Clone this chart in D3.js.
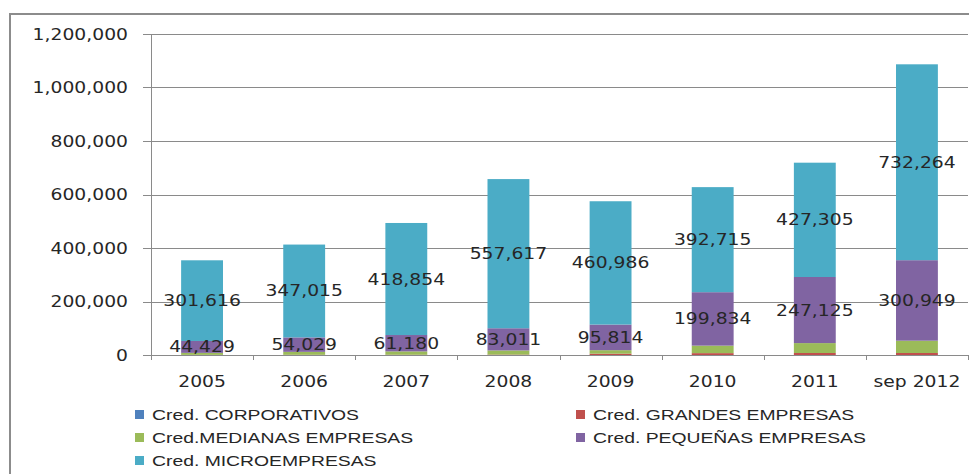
<!DOCTYPE html>
<html>
<head>
<meta charset="utf-8">
<script src="https://cdn.jsdelivr.net/npm/d3@7"></script>
<style>
  html, body { margin: 0; padding: 0; background: #fff; }
  svg { display: block; }
</style>
</head>
<body>
<svg id="chart" width="969" height="474"></svg>
<script>
// ---- Data ----
const categories = ["2005", "2006", "2007", "2008", "2009", "2010", "2011", "sep 2012"];
const seriesNames = ["Cred. CORPORATIVOS", "Cred. GRANDES EMPRESAS", "Cred.MEDIANAS EMPRESAS", "Cred. PEQUEÑAS EMPRESAS", "Cred. MICROEMPRESAS"];
const corporativos = [0, 0, 0, 0, 0, 0, 0, 0];
const grandes      = [500, 800, 1000, 1500, 5000, 7000, 7500, 7500];
const medianas     = [7500, 11000, 12500, 15500, 13000, 28000, 37000, 46000];
const pequenas     = [44429, 54029, 61180, 83011, 95814, 199834, 247125, 300949];
const micro        = [301616, 347015, 418854, 557617, 460986, 392715, 427305, 732264];
const yTicks = [0, 200000, 400000, 600000, 800000, 1000000, 1200000];
const colors = ["#4F81BD", "#C0504D", "#9BBB59", "#8064A2", "#4BACC6"];
const labelledSeries = [3, 4];

// ---- Layout ----
const svg = d3.select("#chart");
const plot = { left: 151, right: 968, top: 34, bottom: 355 };
const sx = 1.25;           // horizontal stretch of text in the reference
const legendSx = 1.29;
const numFont = "'DejaVu Sans', Verdana, sans-serif";
const legFont = "'Liberation Sans', Arial, sans-serif";
const textColor = "#262626";
const gridColor = "#8a8a8a";

// Outer frame (partially cropped in the reference)
svg.append("line").attr("x1", 10).attr("x2", 969).attr("y1", 14).attr("y2", 14)
  .attr("stroke", "#8c8c8c").attr("stroke-width", 2);
svg.append("line").attr("x1", 10).attr("x2", 10).attr("y1", 13).attr("y2", 474)
  .attr("stroke", "#8c8c8c").attr("stroke-width", 2);

const x = d3.scaleBand().domain(categories).range([plot.left, plot.right]).paddingInner(0.59).paddingOuter(0.295);
const xBand = d3.scaleBand().domain(categories).range([plot.left, plot.right]);
const y = d3.scaleLinear().domain([0, 1200000]).range([plot.bottom, plot.top]);

// Gridlines + y ticks
const g = svg.append("g");
g.selectAll("line.grid").data(yTicks).enter().append("line")
  .attr("x1", plot.left - 8).attr("x2", plot.right)
  .attr("y1", d => Math.round(y(d)) + 0.5).attr("y2", d => Math.round(y(d)) + 0.5)
  .attr("stroke", gridColor).attr("stroke-width", 1);

const fmt = d3.format(",");
g.selectAll("text.ylab").data(yTicks).enter().append("text")
  .attr("transform", d => `translate(128,${y(d) + 5.5}) scale(${sx},1)`)
  .attr("text-anchor", "end")
  .attr("font-family", numFont).attr("font-size", 15).attr("fill", textColor)
  .text(d => fmt(d));

// Stacked bars
const rows = categories.map((c, i) => ({
  cat: c, s0: corporativos[i], s1: grandes[i], s2: medianas[i], s3: pequenas[i], s4: micro[i]
}));
const keys = ["s0", "s1", "s2", "s3", "s4"];
const stacked = d3.stack().keys(keys)(rows);

stacked.forEach((layer, li) => {
  svg.append("g").selectAll("rect").data(layer).enter().append("rect")
    .attr("x", d => x(d.data.cat))
    .attr("width", x.bandwidth())
    .attr("y", d => y(d[1]))
    .attr("height", d => Math.max(0, y(d[0]) - y(d[1])))
    .attr("fill", colors[li]);
});

// Axes lines
svg.append("line").attr("x1", plot.left + 0.5).attr("x2", plot.left + 0.5)
  .attr("y1", plot.top).attr("y2", plot.bottom + 5).attr("stroke", gridColor);
svg.append("line").attr("x1", plot.left).attr("x2", plot.right)
  .attr("y1", plot.bottom + 0.5).attr("y2", plot.bottom + 0.5).attr("stroke", gridColor);
const tickXs = categories.map(c => xBand(c)).concat([plot.right]);
svg.selectAll("line.xt").data(tickXs).enter().append("line")
  .attr("x1", d => Math.round(d) + 0.5).attr("x2", d => Math.round(d) + 0.5)
  .attr("y1", plot.bottom).attr("y2", plot.bottom + 5).attr("stroke", gridColor);

// X labels
svg.selectAll("text.xlab").data(categories).enter().append("text")
  .attr("transform", d => `translate(${x(d) + x.bandwidth() / 2},386.5) scale(${sx},1)`)
  .attr("text-anchor", "middle")
  .attr("font-family", numFont).attr("font-size", 15).attr("fill", textColor)
  .text(d => d);

// Data labels
labelledSeries.forEach(li => {
  svg.append("g").selectAll("text").data(stacked[li]).enter().append("text")
    .attr("transform", d => `translate(${x(d.data.cat) + x.bandwidth() / 2},${(y(d[0]) + y(d[1])) / 2 + 5.5}) scale(${sx},1)`)
    .attr("text-anchor", "middle")
    .attr("font-family", numFont).attr("font-size", 15).attr("fill", textColor)
    .text(d => fmt(d[1] - d[0]));
});

// Legend
const legendPos = [[135, 410], [576, 410], [135, 433], [576, 433], [135, 456]];
const lg = svg.append("g");
seriesNames.forEach((name, i) => {
  const [lx, ly] = legendPos[i];
  lg.append("rect").attr("x", lx).attr("y", ly).attr("width", 9).attr("height", 9).attr("fill", colors[i]);
  lg.append("text")
    .attr("transform", `translate(${lx + 17},${ly + 10}) scale(${legendSx},1)`)
    .attr("font-family", legFont).attr("font-size", 15).attr("fill", textColor)
    .text(name);
});
</script>
</body>
</html>
